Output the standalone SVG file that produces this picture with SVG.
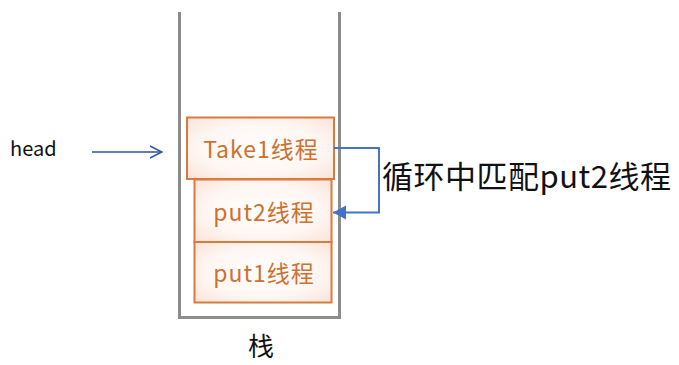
<svg xmlns="http://www.w3.org/2000/svg" width="679" height="365" viewBox="0 0 679 365">
<style>
.box{stroke:#DA7A3C;stroke-width:2;fill:url(#pg)}
.lbl{font-family:"Noto Sans CJK SC","Noto Sans",sans-serif;font-size:23px;letter-spacing:1px;fill:#D0702F;text-anchor:middle}
.blk{font-family:"Noto Sans CJK SC","Noto Sans",sans-serif;fill:#111}
.wall{stroke:#8C8C8C;stroke-width:3;fill:none}
</style>
<defs>
<radialGradient id="pg" cx="0.5" cy="0.5" r="0.7">
<stop offset="0" stop-color="#ffffff"/>
<stop offset="0.6" stop-color="#FEF6F2"/>
<stop offset="1" stop-color="#FBE3D8"/>
</radialGradient>
<marker id="open" markerWidth="14" markerHeight="14" refX="13" refY="7" orient="auto" markerUnits="userSpaceOnUse">
<path d="M1,1 L13,7 L1,13" fill="none" stroke="#2F5597" stroke-width="1.5"/>
</marker>
<marker id="tri" markerWidth="16" markerHeight="16" refX="13" refY="8" orient="auto" markerUnits="userSpaceOnUse">
<path d="M0,1 L13,8 L0,15 Z" fill="#4472C4"/>
</marker>
</defs>
<g id="stack">
<polyline class="wall" points="179.5,12 179.5,317.5 339.5,317.5 339.5,12"/>
<text class="blk" x="261" y="356" font-size="26" text-anchor="middle">栈</text>
</g>
<g id="take1">
<rect class="box" x="187" y="117.5" width="147" height="61.5"/>
<text class="lbl" x="261" y="158">Take1线程</text>
</g>
<g id="put2">
<rect class="box" x="194.5" y="179.5" width="137" height="62.5"/>
<text class="lbl" x="264" y="221">put2线程</text>
</g>
<g id="put1">
<rect class="box" x="194.5" y="242" width="137" height="60.5"/>
<text class="lbl" x="264" y="282">put1线程</text>
</g>
<g id="head">
<text class="blk" x="10" y="156" font-size="20">head</text>
</g>
<g id="note">
<text class="blk" x="382" y="188" font-size="31" letter-spacing="0.5">循环中匹配put2线程</text>
</g>
<g id="connectors">
<line x1="92" y1="152" x2="162" y2="152" stroke="#2F5597" stroke-width="1.5" marker-end="url(#open)"/>
<polyline points="334,148 379,148 379,212.5 333,212.5" fill="none" stroke="#4472C4" stroke-width="2" marker-end="url(#tri)"/>
</g>
</svg>
